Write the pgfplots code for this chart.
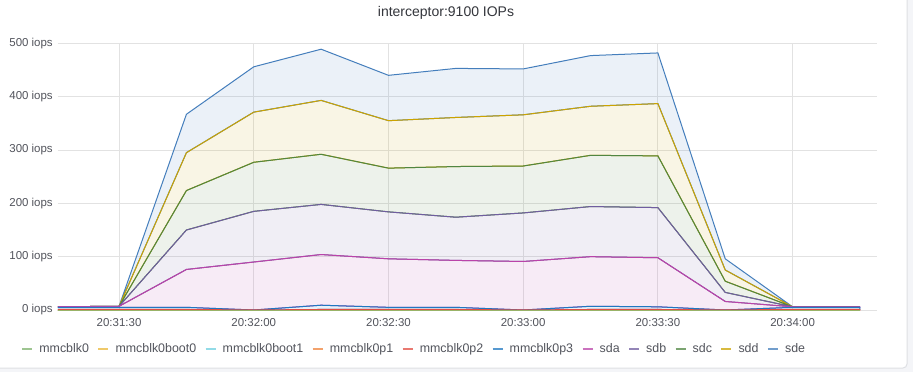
\documentclass[border=0pt]{standalone}
\usepackage{pgfplots}
\pgfplotsset{compat=1.18}
\usepackage{pgfplotstable}
\usepackage{fontspec}
\setmainfont{Liberation Sans}
\definecolor{cA}{HTML}{7EB26D}
\definecolor{cB}{HTML}{EAB839}
\definecolor{cC}{HTML}{6ED0E0}
\definecolor{cD}{HTML}{EF843C}
\definecolor{cE}{HTML}{E24D42}
\definecolor{cF}{HTML}{1F78C1}
\definecolor{cG}{HTML}{BA43A9}
\definecolor{cH}{HTML}{705DA0}
\definecolor{cI}{HTML}{508642}
\definecolor{cJ}{HTML}{CCA300}
\definecolor{cK}{HTML}{447EBC}
\definecolor{gridc}{RGB}{226,226,226}
\definecolor{tickc}{RGB}{82,84,92}
\definecolor{titlec}{RGB}{52,54,60}
\definecolor{bgc}{RGB}{244,245,248}
\definecolor{borderc}{RGB}{222,224,228}

\pgfplotstableread{
t mmcblk0 boot0 boot1 p1 p2 p3 sda sdb sdc sdd sde
15 0 0 0 0 1 4 1 0 0 0 0
30 0 0 0 0 1 4 2 0 0 0 0
45 0 0 0 0 1 4 71 74 74 71 72
60 0 0 0 0 0 0 90 95 92 94 85
75 0 0 0 0 1 8 95 94 94 101 96
90 0 0 0 0 1 4 91 88 82 89 85
105 0 0 0 0 1 4 88 81 95 92 92
120 0 0 0 0 0 0 91 91 88 96 86
135 0 0 0 0 1 6 93 94 96 92 95
150 0 0 0 0 1 5 92 94 97 98 95
165 0 0 0 0 0 0 16 17 21 21 21
180 0 0 0 0 1 4 1 0 0 0 0
195 0 0 0 0 1 4 1 0 0 0 0
}\data

\begin{document}
\begin{tikzpicture}[x=0.75pt,y=0.75pt]
% picture frame in reference pixels, axis box origin at (0,0) = pixel (58,310)
\useasboundingbox (-58,-62) rectangle (855,310);
\fill[bgc] (-58,-62) rectangle (855,310);
\draw[borderc, fill=white, rounded corners=3pt, line width=0.75pt] (-70,-58) rectangle (849,330);
\node[font=\fontsize{10.5}{12}\selectfont, text=titlec] at (388,297.5) {interceptor:9100 IOPs};
\begin{axis}[
  scale only axis, width=614.25pt, height=200pt,
  xmin=16.4, xmax=198.8, ymin=0, ymax=500,
  stack plots=y,
  axis line style={draw=none},
  tick style={draw=none},
  grid=major,
  major grid style={color=gridc, line width=0.75pt},
  xtick={30,60,90,120,150,180},
  xticklabels={20:31:30,20:32:00,20:32:30,20:33:00,20:33:30,20:34:00},
  ytick={0,100,200,300,400,500},
  yticklabels={0 iops,100 iops,200 iops,300 iops,400 iops,500 iops},
  tick label style={font=\fontsize{8.6}{10}\selectfont, text=tickc},
  xticklabel style={yshift=-3pt},
  yticklabel style={inner sep=0pt, xshift=-3.75pt},
  every axis plot/.append style={line width=0.75pt, fill opacity=0.1, draw opacity=1},
  legend columns=11,
  legend image code/.code={\draw[#1, line width=1.5pt, fill=none, draw opacity=0.75] (0pt,0pt) -- (7.5pt,0pt);},
  legend style={at={(-0.0452,-0.146)}, anchor=west, draw=none, fill=none,
    inner sep=0pt, font=\fontsize{9.3}{11}\selectfont, text=tickc,
    nodes={inner sep=0pt},
    /tikz/every odd column/.style={column sep=4.6pt},
    /tikz/every even column/.style={column sep=6.3pt}},
  legend cell align=left,
]
\addplot[draw=cA, fill=cA] table[x=t,y=mmcblk0] {\data} \closedcycle;
\addlegendentry{mmcblk0}
\addplot[draw=cB, fill=cB] table[x=t,y=boot0] {\data} \closedcycle;
\addlegendentry{mmcblk0boot0}
\addplot[draw=cC, fill=cC] table[x=t,y=boot1] {\data} \closedcycle;
\addlegendentry{mmcblk0boot1}
\addplot[draw=cD, fill=cD] table[x=t,y=p1] {\data} \closedcycle;
\addlegendentry{mmcblk0p1}
\addplot[draw=cE, fill=cE] table[x=t,y=p2] {\data} \closedcycle;
\addlegendentry{mmcblk0p2}
\addplot[draw=cF, fill=cF] table[x=t,y=p3] {\data} \closedcycle;
\addlegendentry{mmcblk0p3}
\addplot[draw=cG, fill=cG] table[x=t,y=sda] {\data} \closedcycle;
\addlegendentry{sda}
\addplot[draw=cH, fill=cH] table[x=t,y=sdb] {\data} \closedcycle;
\addlegendentry{sdb}
\addplot[draw=cI, fill=cI] table[x=t,y=sdc] {\data} \closedcycle;
\addlegendentry{sdc}
\addplot[draw=cJ, fill=cJ] table[x=t,y=sdd] {\data} \closedcycle;
\addlegendentry{sdd}
\addplot[draw=cK, fill=cK] table[x=t,y=sde] {\data} \closedcycle;
\addlegendentry{sde}
\end{axis}
\end{tikzpicture}
\end{document}
